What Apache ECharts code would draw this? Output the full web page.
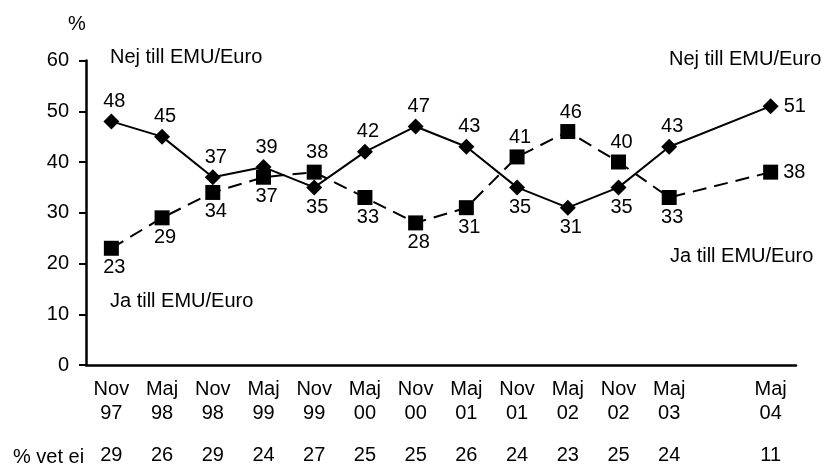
<!DOCTYPE html>
<html>
<head>
<meta charset="utf-8">
<script src="https://cdn.jsdelivr.net/npm/echarts@6/dist/echarts.min.js"></script>
<style>
  html, body { margin: 0; padding: 0; background: #fff; }
  #chart { width: 835px; height: 465px; }
</style>
</head>
<body>
<div id="chart"></div>
<script>
  // mätomgångar (Nov 03 saknas, lämnas tom)
  var categories = ['Nov\n97', 'Maj\n98', 'Nov\n98', 'Maj\n99', 'Nov\n99', 'Maj\n00', 'Nov\n00',
    'Maj\n01', 'Nov\n01', 'Maj\n02', 'Nov\n02', 'Maj\n03', '', 'Maj\n04']
  var nejValues = [48, 45, 37, 39, 35, 42, 47, 43, 35, 31, 35, 43, null, 51]
  var jaValues = [23, 29, 34, 37, 38, 33, 28, 31, 41, 46, 40, 33, null, 38]
  var vetEi = [29, 26, 29, 24, 27, 25, 25, 26, 24, 23, 25, 24, null, 11]
  var yTicks = [0, 10, 20, 30, 40, 50, 60]

  // var etiketterna hamnar
  var nejLabelPos = ['top', 'top', 'top', 'top', 'bottom', 'top', 'top', 'top', 'bottom', 'bottom', 'bottom', 'top', 'top', 'right']
  var jaLabelPos = ['bottom', 'bottom', 'bottom', 'bottom', 'top', 'bottom', 'bottom', 'bottom', 'top', 'top', 'top', 'bottom', 'bottom', 'right']

  var font = 'Liberation Sans, Arial, sans-serif'
  var fs = 20

  function withLabels (values, pos) {
    return values.map(function (v, i) {
      return { value: v, label: { position: pos[i] } }
    })
  }

  function txt (s, left, top) {
    return { type: 'text', left: left, top: top, style: { text: s, font: fs + 'px ' + font, fill: '#000' } }
  }

  var chart = echarts.init(document.getElementById('chart'))
  var option = {
    backgroundColor: '#fff',
    animation: false,
    textStyle: { fontFamily: font, color: '#000' },
    grid: { left: 86, right: 39, top: 60.5, bottom: 99 },
    xAxis: [
      {
        type: 'category',
        data: categories,
        boundaryGap: true,
        axisLine: { lineStyle: { color: '#000', width: 2.5 } },
        axisTick: { show: false },
        axisLabel: { interval: 0, color: '#000', fontSize: fs, fontFamily: font, lineHeight: 24, margin: 12 }
      },
      {
        type: 'category',
        position: 'bottom',
        offset: 72,
        data: vetEi.map(function (v) { return v === null ? '' : String(v) }),
        boundaryGap: true,
        axisLine: { show: false },
        axisTick: { show: false },
        axisLabel: { interval: 0, color: '#000', fontSize: fs, fontFamily: font, margin: 8 }
      }
    ],
    yAxis: {
      type: 'value',
      min: yTicks[0],
      max: yTicks[yTicks.length - 1],
      interval: 10,
      splitLine: { show: false },
      axisLine: { show: true, lineStyle: { color: '#000', width: 2.5 } },
      axisTick: { show: true, length: 7, lineStyle: { color: '#000', width: 2 } },
      axisLabel: { color: '#000', fontSize: fs, fontFamily: font, margin: 17 }
    },
    graphic: [
      txt('%', 68, 14),
      txt('Nej till EMU/Euro', 110, 47),
      txt('Nej till EMU/Euro', 669, 49),
      txt('Ja till EMU/Euro', 110, 291),
      txt('Ja till EMU/Euro', 670, 246),
      txt('% vet ei', 13, 447)
    ],
    series: [
      {
        name: 'Ja till EMU/Euro',
        type: 'line',
        data: withLabels(jaValues, jaLabelPos),
        connectNulls: true,
        symbol: 'rect',
        symbolSize: 15,
        itemStyle: { color: '#000' },
        lineStyle: { color: '#000', width: 2, type: [14, 8] },
        label: { show: true, color: '#000', fontSize: fs, fontFamily: font, distance: 2, offset: [3, 0] }
      },
      {
        name: 'Nej till EMU/Euro',
        type: 'line',
        data: withLabels(nejValues, nejLabelPos),
        connectNulls: true,
        symbol: 'diamond',
        symbolSize: 16,
        itemStyle: { color: '#000' },
        lineStyle: { color: '#000', width: 2 },
        label: { show: true, color: '#000', fontSize: fs, fontFamily: font, distance: 2, offset: [3, 0] }
      }
    ]
  }
  chart.setOption(option)
</script>
</body>
</html>
